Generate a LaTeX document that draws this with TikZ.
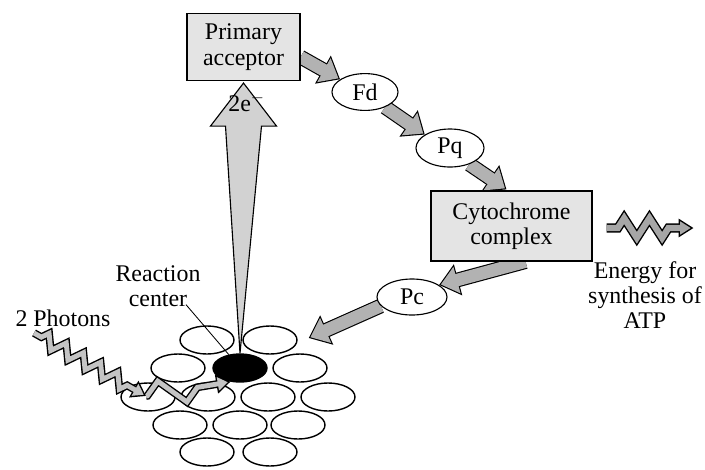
\documentclass[tikz,border=0pt]{standalone}
\usepackage{fontspec}
\setmainfont{Liberation Serif}
\usetikzlibrary{positioning,shapes.geometric,arrows.meta,calc,decorations.pathmorphing}
\definecolor{BoxGray}{HTML}{E4E4E4}
\definecolor{ArrowGray}{HTML}{B2B2B2}
\definecolor{BeamGray}{HTML}{D2D2D2}
\definecolor{PhotonGray}{HTML}{C4C4C4}
\definecolor{EnergyGray}{HTML}{A6A6A6}
\pgfdeclarelayer{back}
\pgfsetlayers{back,main}
\begin{document}
\begin{tikzpicture}[x=0.025cm,y=-0.025cm,
        font=\fontsize{17}{18}\selectfont,
        box/.style={draw,line width=0.8pt,fill=BoxGray,align=center,inner sep=0pt},
        carrier/.style={draw,ellipse,line width=0.8pt,fill=white,minimum width=1.65cm,
                        minimum height=0.92cm,inner sep=0pt},
        disc/.style={draw,ellipse,line width=1pt,fill=white,minimum width=1.35cm,
                     minimum height=0.7cm,inner sep=0pt},
        fat/.style={line width=10.5pt,-{Triangle[length=14pt,width=22pt]},
                    postaction={draw=ArrowGray,line width=8.9pt,
                                -{Triangle[length=11.9pt,width=18.7pt]},shorten >=1.3pt}},
        photon/.style n args={3}{decorate,line join=miter,
                       decoration={zigzag,segment length=#1,amplitude=#2,pre length=#3,post length=12pt},
                       line width=5.5pt,-{Triangle[length=10pt,width=13pt]},
                       postaction={draw=PhotonGray,line width=3.5pt,
                                   -{Triangle[length=7.2pt,width=9.3pt]},shorten >=1.8pt}},
        energy/.style={decorate,line join=miter,
                       decoration={zigzag,segment length=18pt,amplitude=7pt,pre length=8pt,post length=17pt},
                       line width=6.5pt,-{Triangle[length=10.6pt,width=12.5pt]},
                       postaction={draw=EnergyGray,line width=4.5pt,
                                   -{Triangle[length=7.6pt,width=9pt]},shorten >=2pt}}
      ]
        \useasboundingbox (0,0) rectangle (705,469);
        \node[box,minimum width=2.825cm,minimum height=1.675cm] (pa) at (243.5,47) {Primary\\acceptor};
        \node[carrier] (fd) at (365,92) {Fd};
        \node[carrier,minimum width=1.7cm,minimum height=0.95cm] (pq) at (450,148) {Pq};
        \node[box,minimum width=4.025cm,minimum height=1.75cm] (cyt) at (511.5,226) {Cytochrome\\complex};
        \node[carrier,minimum width=1.75cm,minimum height=0.9cm] (pc) at (412,297) {Pc};
        \node[align=center] (atp) at (645,295) {Energy for\\synthesis of\\ATP};

        \foreach \x/\y [count=\i] in {207/340,270/340,178/368,300/368,148/397,208/397,268/397,
                                      328/397,180/425,240/425,298/425,207/452,270/452}
          \node[disc] (d\i) at (\x,\y) {};
        \node[disc,fill=black] (rc) at (240,368) {};

        \begin{pgfonlayer}{back}
          \draw[fat] (pa.-10) -- (fd.153);
          \draw[fat] (fd.-37) -- (pq.152);
          \draw[fat] (pq.-40) -- ($(cyt.north)+(-5,-1)$);
          \draw[fat] ($(cyt.south)+(14,0)$) -- (pc.24);
          \draw[fat] (pc.196) -- ($(d2.east)+(11,-2)$);
        \end{pgfonlayer}

        \coordinate (etip) at ($(pa.south)+(0,2)$);
        \draw[line width=0.8pt,fill=BeamGray,line join=miter] (rc.north) -- ($(etip)+(-18,43)$)
          -- ($(etip)+(-33,43)$) -- (etip) -- ($(etip)+(33,43)$) -- ($(etip)+(18,43)$) -- cycle;
        \node at ($(etip)+(3,19)$) {2e$^{-}$};

        \node[align=center] (rclab) at (158,286) {Reaction\\center};
        \draw[line width=0.6pt] ($(rclab.south)+(28,-7)$) -- (rc.130);

        \node (photons) at (63,318) {2 Photons};
        \coordinate (phstart) at (34,333);
        \coordinate (phbend) at (146,396);
        \draw[photon={14pt}{5pt}{6pt}] (phstart) -- (phbend);
        \draw[photon={36pt}{9pt}{1pt}] (phbend) -- (rc.235);

        \coordinate (enstart) at ($(cyt.east)+(14,2)$);
        \coordinate (enend) at ($(cyt.east)+(101,2)$);
        \draw[energy] (enstart) -- (enend);
      \end{tikzpicture}
\end{document}
